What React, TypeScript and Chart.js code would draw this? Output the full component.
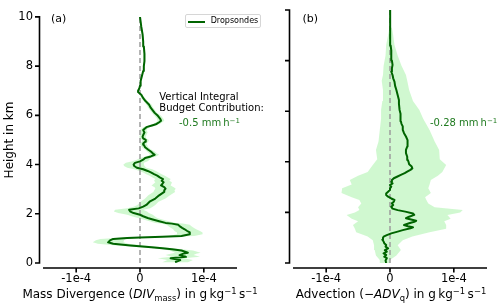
import React, { useEffect, useRef } from 'react';
import { Chart, registerables } from 'chart.js';

Chart.register(...registerables);

const FONT = "'DejaVu Sans', 'Noto Sans', sans-serif";

// values are stored in units of 1e-4 g kg^-1 s^-1
const Y_TICKS = [0, 2, 4, 6, 8, 10];
const X_TICK_VALUES = [-1, 0, 1];
const X_TICK_LABELS = ['-1e-4', '0', '1e-4'];
const X_MIN = -1.52;
const X_MAX = 1.52;
const ZERO_LINE_ALT = [0, 10];

// Panel (a): mass divergence profile (height in km)
const altA = [
  0.03, 0.12, 0.19, 0.25, 0.32, 0.38, 0.42, 0.51, 0.56, 0.6,
  0.64, 0.71, 0.78, 0.84, 0.92, 0.98, 1.02, 1.04, 1.07, 1.1,
  1.17, 1.24, 1.3, 1.37, 1.43, 1.5, 1.55, 1.6, 1.63, 1.7,
  1.77, 1.83, 1.9, 1.96, 2.03, 2.09, 2.16, 2.22, 2.29, 2.36,
  2.49, 2.62, 2.75, 2.89, 2.95, 3.02, 3.08, 3.15, 3.21, 3.28,
  3.34, 3.41, 3.48, 3.55, 3.61, 3.68, 3.74, 3.81, 3.87, 3.94,
  4.0, 4.07, 4.13, 4.2, 4.27, 4.33, 4.4, 4.46, 4.53, 4.6,
  4.7, 4.8, 4.86, 4.93, 5.0, 5.06, 5.13, 5.2, 5.3, 5.4,
  5.52, 5.6, 5.65, 5.72, 5.78, 5.85, 5.98, 6.1, 6.2, 6.3,
  6.44, 6.57, 6.7, 6.84, 6.95, 7.0, 7.1, 7.2, 7.4, 7.6,
  7.8, 8.0, 8.2, 8.5, 8.8, 9.0, 9.3, 9.6, 10.0,
];
const divMassA = [
  0.55, 0.63, 0.48, 0.72, 0.62, 0.68, 0.75, 0.65, 0.5, 0.35,
  0.18, -0.15, -0.42, -0.5, -0.47, -0.42, -0.2, 0.0, 0.35, 0.65,
  0.78, 0.78, 0.74, 0.7, 0.66, 0.62, 0.6, 0.5, 0.4, 0.3,
  0.2, 0.12, 0.05, 0.0, -0.1, -0.15, -0.17, -0.02, 0.05, 0.1,
  0.15, 0.24, 0.3, 0.38, 0.38, 0.4, 0.38, 0.33, 0.35, 0.37,
  0.34, 0.36, 0.31, 0.27, 0.22, 0.17, 0.12, 0.05, -0.05, -0.09,
  -0.1, -0.08, 0.0, 0.05, 0.08, 0.17, 0.23, 0.2, 0.17, 0.13,
  0.08, 0.06, 0.05, 0.08, 0.09, 0.05, 0.04, 0.05, 0.07, 0.05,
  0.1, 0.2, 0.26, 0.3, 0.33, 0.32, 0.28, 0.23, 0.2, 0.17,
  0.14, 0.09, 0.05, 0.02, -0.03, -0.03, -0.01, 0.0, 0.01, 0.03,
  0.05, 0.06, 0.07, 0.07, 0.06, 0.05, 0.04, 0.02, 0.0,
];
const spreadA = [
  0.2, 0.2, 0.2, 0.22, 0.22, 0.2, 0.2, 0.18, 0.15, 0.15,
  0.18, 0.22, 0.24, 0.24, 0.22, 0.2, 0.18, 0.18, 0.2, 0.2,
  0.2, 0.2, 0.2, 0.18, 0.18, 0.18, 0.18, 0.17, 0.16, 0.15,
  0.15, 0.15, 0.18, 0.2, 0.24, 0.26, 0.22, 0.18, 0.15, 0.14,
  0.14, 0.16, 0.17, 0.17, 0.16, 0.16, 0.15, 0.15, 0.14, 0.13,
  0.12, 0.12, 0.12, 0.12, 0.12, 0.12, 0.13, 0.14, 0.15, 0.16,
  0.16, 0.14, 0.12, 0.1, 0.08, 0.08, 0.07, 0.06, 0.06, 0.05,
  0.05, 0.05, 0.05, 0.05, 0.05, 0.05, 0.05, 0.05, 0.05, 0.05,
  0.05, 0.05, 0.05, 0.05, 0.05, 0.05, 0.05, 0.04, 0.04, 0.04,
  0.04, 0.03, 0.03, 0.02, 0.02, 0.01, 0.01, 0.01, 0.01, 0.01,
  0.01, 0.01, 0.01, 0.01, 0.01, 0.01, 0.01, 0.01, 0.01,
];

// Panel (b): advection profile
const altB = [
  0.0, 0.1, 0.19, 0.25, 0.32, 0.38, 0.45, 0.51, 0.58, 0.65,
  0.71, 0.78, 0.85, 0.92, 1.0, 1.04, 1.1, 1.17, 1.24, 1.3,
  1.37, 1.41, 1.45, 1.5, 1.57, 1.63, 1.67, 1.72, 1.77, 1.83,
  1.9, 1.96, 2.03, 2.09, 2.15, 2.22, 2.29, 2.36, 2.42, 2.49,
  2.55, 2.62, 2.69, 2.75, 2.82, 2.89, 2.95, 3.02, 3.08, 3.15,
  3.21, 3.28, 3.35, 3.41, 3.48, 3.55, 3.61, 3.68, 3.74, 3.81,
  3.9, 4.0, 4.07, 4.2, 4.34, 4.47, 4.6, 4.75, 4.86, 5.0,
  5.13, 5.26, 5.4, 5.5, 5.6, 5.78, 5.9, 6.05, 6.3, 6.44,
  6.64, 6.84, 7.0, 7.17, 7.3, 7.43, 7.56, 7.7, 7.83, 8.0,
  8.2, 8.4, 8.6, 8.8, 9.0, 9.5, 10.0,
];
const advB = [
  -0.06, -0.07, -0.05, -0.09, -0.06, -0.1, -0.05, -0.08, -0.03, -0.07,
  -0.06, -0.09, -0.1, -0.12, -0.11, -0.1, -0.05, 0.02, 0.12, 0.2,
  0.32, 0.36, 0.28, 0.22, 0.3, 0.38, 0.41, 0.33, 0.25, 0.3,
  0.38, 0.36, 0.24, 0.12, 0.04, 0.02, 0.05, 0.03, 0.06, 0.07,
  0.02, -0.03, -0.06, -0.06, -0.03, 0.0, 0.0, 0.02, 0.0, 0.04,
  0.02, 0.03, 0.06, 0.11, 0.17, 0.23, 0.27, 0.32, 0.35, 0.34,
  0.3, 0.29, 0.28, 0.27, 0.25, 0.25, 0.27, 0.28, 0.27, 0.25,
  0.22, 0.2, 0.2, 0.18, 0.17, 0.17, 0.16, 0.15, 0.14, 0.14,
  0.12, 0.1, 0.08, 0.07, 0.05, 0.04, 0.02, 0.03, 0.04, 0.03,
  0.02, 0.02, 0.01, 0.01, 0.0, 0.0, 0.0,
];
const bandAltB = [
  0.0, 0.12, 0.3, 0.51, 0.7, 0.9, 1.05, 1.22, 1.35, 1.5,
  1.65, 1.75, 1.9, 2.0, 2.09, 2.2, 2.35, 2.49, 2.6, 2.77,
  2.95, 3.1, 3.28, 3.45, 3.6, 3.87, 4.1, 4.47, 4.8, 5.26,
  5.7, 6.05, 6.4, 6.84, 7.2, 7.43, 7.8, 8.2, 8.62, 9.0, 9.3,
];
const bandLowB = [
  -0.16, -0.16, -0.22, -0.24, -0.25, -0.27, -0.35, -0.53, -0.55, -0.58,
  -0.5, -0.6, -0.68, -0.55, -0.48, -0.5, -0.45, -0.48, -0.6, -0.76,
  -0.75, -0.6, -0.63, -0.5, -0.35, -0.27, -0.2, -0.22, -0.18, -0.16,
  -0.14, -0.14, -0.12, -0.11, -0.13, -0.11, -0.1, -0.07, -0.06, -0.03, -0.01,
];
const bandHighB = [
  0.0, 0.0, 0.1, 0.17, 0.12, 0.2, 0.35, 0.62, 0.88, 0.88,
  0.85, 0.95, 0.9, 1.1, 1.14, 0.7, 0.6, 0.57, 0.55, 0.64,
  0.6, 0.62, 0.64, 0.75, 0.82, 0.88, 0.78, 0.77, 0.7, 0.62,
  0.52, 0.46, 0.36, 0.3, 0.27, 0.25, 0.18, 0.12, 0.07, 0.05, 0.03,
];

const CURVE_COLOR = '#006400';
const BAND_COLOR = 'rgba(144, 238, 144, 0.42)';
const ZERO_COLOR = '#9c9c9c';
const TEXT_GREEN = '#1f7a1f';

type Pt = { x: number; y: number };

function profile(alt: number[], val: number[]): Pt[] {
  return alt.map((a, i) => ({ x: val[i], y: a }));
}

function bandPolygon(alt: number[], low: number[], high: number[]): Pt[] {
  const pts: Pt[] = alt.map((a, i) => ({ x: low[i], y: a }));
  for (let i = alt.length - 1; i >= 0; i--) pts.push({ x: high[i], y: alt[i] });
  return pts;
}

const spinePlugin = {
  id: 'offsetSpines',
  afterDraw(chart: any) {
    const { ctx, chartArea, scales } = chart;
    const xs = scales.x;
    const ys = scales.y;
    const sx = chartArea.left - 3.5;
    const sy = chartArea.bottom + 5;
    ctx.save();
    ctx.strokeStyle = '#000';
    ctx.lineWidth = 1.6;
    ctx.beginPath();
    ctx.moveTo(sx, ys.getPixelForValue(Y_TICKS[0]) + 0.8);
    ctx.lineTo(sx, ys.getPixelForValue(Y_TICKS[Y_TICKS.length - 1]) - 0.8);
    ctx.moveTo(xs.getPixelForValue(X_MIN), sy);
    ctx.lineTo(xs.getPixelForValue(X_MAX), sy);
    Y_TICKS.forEach((v) => {
      const py = ys.getPixelForValue(v);
      ctx.moveTo(sx - 4.5, py);
      ctx.lineTo(sx, py);
    });
    X_TICK_VALUES.forEach((v) => {
      const px = xs.getPixelForValue(v);
      ctx.moveTo(px, sy);
      ctx.lineTo(px, sy + 4.5);
    });
    ctx.stroke();
    ctx.restore();
  },
};

function makeConfig(curve: Pt[], band: Pt[], showYLabels: boolean): any {
  const zeroLine = ZERO_LINE_ALT.map((a) => ({ x: 0, y: a }));
  return {
    type: 'scatter',
    data: {
      datasets: [
        {
          label: 'Dropsondes',
          data: curve,
          showLine: true,
          borderColor: CURVE_COLOR,
          borderWidth: 2,
          borderJoinStyle: 'round',
          pointRadius: 0,
          tension: 0,
          order: 0,
        },
        {
          label: 'zero',
          data: zeroLine,
          showLine: true,
          borderColor: ZERO_COLOR,
          borderWidth: 1.5,
          borderDash: [5, 3],
          pointRadius: 0,
          order: 1,
        },
        {
          label: 'spread',
          data: band,
          showLine: true,
          borderColor: 'rgba(0,0,0,0)',
          borderWidth: 0,
          backgroundColor: BAND_COLOR,
          fill: 'shape',
          pointRadius: 0,
          tension: 0,
          order: 2,
        },
      ],
    },
    options: {
      animation: false,
      responsive: true,
      maintainAspectRatio: false,
      events: [],
      layout: { padding: { top: 10, right: 13, left: 0, bottom: 0 } },
      plugins: { legend: { display: false }, tooltip: { enabled: false } },
      scales: {
        x: {
          type: 'linear',
          min: X_MIN,
          max: X_MAX,
          grid: { display: false, drawTicks: false },
          border: { display: false },
          afterBuildTicks: (s: any) => {
            s.ticks = X_TICK_VALUES.map((v) => ({ value: v }));
          },
          afterFit: (s: any) => {
            s.height = 44;
          },
          ticks: {
            padding: 9,
            color: '#000',
            font: { family: FONT, size: 11.5 },
            maxRotation: 0,
            callback: (v: number) => {
              const i = X_TICK_VALUES.indexOf(v);
              return i >= 0 ? X_TICK_LABELS[i] : '';
            },
          },
        },
        y: {
          type: 'linear',
          min: 0,
          max: 10,
          grid: { display: false, drawTicks: false },
          border: { display: false },
          afterFit: (s: any) => {
            s.width = 43;
          },
          ticks: {
            stepSize: 2,
            display: showYLabels,
            padding: 10,
            color: '#000',
            font: { family: FONT, size: 11.5 },
          },
          title: {
            display: showYLabels,
            text: 'Height in km',
            color: '#000',
            font: { family: FONT, size: 12 },
            padding: { top: 3, bottom: 0 },
          },
        },
      },
    },
    plugins: [spinePlugin],
  };
}

const subStyle: React.CSSProperties = { fontSize: '70%', position: 'relative', top: '0.3em', verticalAlign: 'baseline', lineHeight: 0 };
const supStyle: React.CSSProperties = { fontSize: '70%', position: 'relative', top: '-0.45em', verticalAlign: 'baseline', lineHeight: 0 };
const THIN = '\u2009';

export default function App() {
  const refA = useRef<HTMLCanvasElement>(null);
  const refB = useRef<HTMLCanvasElement>(null);

  useEffect(() => {
    const bandA = bandPolygon(
      altA,
      divMassA.map((v, i) => v - spreadA[i]),
      divMassA.map((v, i) => v + spreadA[i])
    );
    const chartA = new Chart(refA.current as HTMLCanvasElement, makeConfig(profile(altA, divMassA), bandA, true));
    const chartB = new Chart(
      refB.current as HTMLCanvasElement,
      makeConfig(profile(altB, advB), bandPolygon(bandAltB, bandLowB, bandHighB), false)
    );
    return () => {
      chartA.destroy();
      chartB.destroy();
    };
  }, []);

  const textBase: React.CSSProperties = {
    position: 'absolute',
    fontFamily: FONT,
    whiteSpace: 'nowrap',
    color: '#000',
  };

  return (
    <div style={{ position: 'absolute', left: 0, top: 0, width: 500, height: 307, background: '#fff', overflow: 'hidden' }}>
      <div style={{ position: 'absolute', left: 0, top: 0, width: 250, height: 307 }}>
        <canvas ref={refA} />
      </div>
      <div style={{ position: 'absolute', left: 250, top: 0, width: 250, height: 307 }}>
        <canvas ref={refB} />
      </div>

      {/* panel labels */}
      <div style={{ ...textBase, left: 51, top: 12.3, fontSize: 11, lineHeight: '13px' }}>(a)</div>
      <div style={{ ...textBase, left: 302.5, top: 12.3, fontSize: 11, lineHeight: '13px' }}>(b)</div>

      {/* legend */}
      <div
        style={{
          position: 'absolute',
          left: 185,
          top: 14,
          width: 76,
          height: 14,
          boxSizing: 'border-box',
          border: '1px solid #d6d6d6',
          borderRadius: 2,
          background: 'rgba(255,255,255,0.8)',
        }}
      >
        <div style={{ position: 'absolute', left: 2, top: 5.5, width: 17, height: 2, background: CURVE_COLOR }} />
        <div style={{ ...textBase, left: 24.7, top: 0.5, fontSize: 8, lineHeight: '10px' }}>Dropsondes</div>
      </div>

      {/* annotations panel (a) */}
      <div style={{ ...textBase, left: 159.3, top: 91, fontSize: 10, lineHeight: '11px' }}>
        Vertical Integral
        <br />
        Budget Contribution:
      </div>
      <div style={{ ...textBase, left: 179, top: 116.7, fontSize: 10, lineHeight: '11px', color: TEXT_GREEN }}>
        -0.5 mm{THIN}h<span style={supStyle}>−1</span>
      </div>

      {/* annotation panel (b) */}
      <div style={{ ...textBase, left: 430, top: 116.7, fontSize: 10, lineHeight: '11px', color: TEXT_GREEN }}>
        -0.28 mm{THIN}h<span style={supStyle}>−1</span>
      </div>

      {/* x-axis titles */}
      <div style={{ ...textBase, left: 140, top: 287, fontSize: 12, lineHeight: '14px', transform: 'translateX(-50%)' }}>
        Mass Divergence (<i>DIV</i>
        <span style={subStyle}>mass</span>) in g{THIN}kg<span style={supStyle}>−1</span>
        {THIN}s<span style={supStyle}>−1</span>
      </div>
      <div style={{ ...textBase, left: 391, top: 287, fontSize: 12, lineHeight: '14px', transform: 'translateX(-50%)' }}>
        Advection (−<i>ADV</i>
        <span style={subStyle}>q</span>) in g{THIN}kg<span style={supStyle}>−1</span>
        {THIN}s<span style={supStyle}>−1</span>
      </div>
    </div>
  );
}
